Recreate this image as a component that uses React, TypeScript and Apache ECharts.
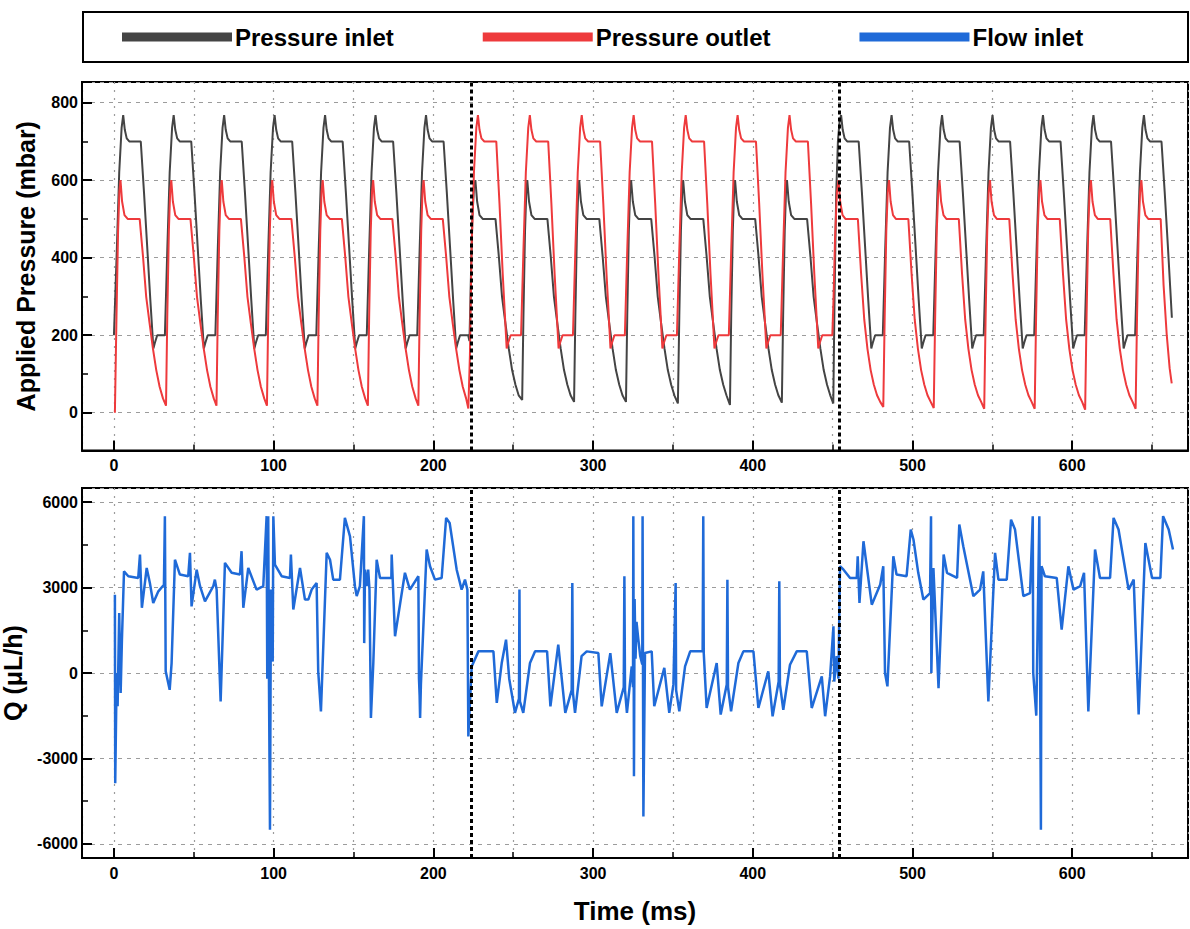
import React, { useEffect, useRef } from "react";
import * as echarts from "echarts";

const seriesNames = ["Pressure inlet", "Pressure outlet", "Flow inlet"];
const switchTimes = [223.5, 454.2];

// Pressure inlet (mbar) — [time ms, value]
const inletData: [number, number][] = [
  [0,200],[1.8,420],[3.3,620],[4.8,735],[5.8,768],[6.8,730],[8.0,708],[9.6,700],[16.8,700],[18.8,570],[20.8,430],[22.8,290],[24.7,166],[25.6,180],[27.1,200],
  [31.9,200],[33.4,420],[34.9,620],[36.4,735],[37.4,768],[38.4,730],[39.6,708],[41.2,700],[48.4,700],[50.4,570],[52.4,430],[54.4,290],[56.3,166],[57.2,180],[58.7,200],
  [63.5,200],[65,420],[66.5,620],[68,735],[69,768],[70,730],[71.2,708],[72.8,700],[80,700],[82,570],[84,430],[86,290],[87.9,166],[88.8,180],[90.3,200],
  [95.1,200],[96.6,420],[98.1,620],[99.6,735],[100.6,768],[101.6,730],[102.8,708],[104.4,700],[111.6,700],[113.6,570],[115.6,430],[117.6,290],[119.5,166],[120.4,180],[121.9,200],
  [126.7,200],[128.2,420],[129.7,620],[131.2,735],[132.2,768],[133.2,730],[134.4,708],[136,700],[143.2,700],[145.2,570],[147.2,430],[149.2,290],[151.1,166],[152,180],[153.5,200],
  [158.3,200],[159.8,420],[161.3,620],[162.8,735],[163.8,768],[164.8,730],[166,708],[167.6,700],[174.8,700],[176.8,570],[178.8,430],[180.8,290],[182.7,166],[183.6,180],[185.1,200],
  [189.9,200],[191.4,420],[192.9,620],[194.4,735],[195.4,768],[196.4,730],[197.6,708],[199.2,700],[206.4,700],[208.4,570],[210.4,430],[212.4,290],[214.3,166],[215.2,180],[216.7,200],
  [221.8,200],[222.6,185],[223.4,330],[224.4,500],[225.4,580],[226.3,600],[227.4,545],[228.9,510],[230.9,500],[238.9,500],[241,403],[243,299],[245.1,231],[247.2,166],[249.3,110],[251.4,72],[253.4,45],[255.6,33],
  [256.4,250],[257.4,470],[258.2,570],[258.8,600],[259.9,545],[261.4,510],[263.4,500],[271.4,500],[273.5,403],[275.5,299],[277.6,231],[279.7,166],[281.8,110],[283.9,72],[285.9,45],[288.1,28],
  [288.9,250],[289.9,470],[290.7,570],[291.3,600],[292.4,545],[293.9,510],[295.9,500],[303.9,500],[306,403],[308,299],[310.1,231],[312.2,166],[314.3,110],[316.4,72],[318.4,45],[320.6,28],
  [321.4,250],[322.4,470],[323.2,570],[323.8,600],[324.9,545],[326.4,510],[328.4,500],[336.4,500],[338.5,403],[340.5,299],[342.6,231],[344.7,166],[346.8,110],[348.9,72],[350.9,45],[353.1,24],
  [354,250],[355,470],[355.8,570],[356.4,600],[357.5,545],[359,510],[361,500],[369,500],[371.1,403],[373.1,299],[375.2,231],[377.3,166],[379.4,110],[381.5,72],[383.5,45],[385.7,20],
  [386.5,250],[387.5,470],[388.3,570],[388.9,600],[390,545],[391.5,510],[393.5,500],[401.5,500],[403.6,403],[405.6,299],[407.7,231],[409.8,166],[411.9,110],[414,72],[416,45],[418.2,26],
  [419,250],[420,470],[420.8,570],[421.4,600],[422.5,545],[424,510],[426,500],[434,500],[436.1,403],[438.1,299],[440.2,231],[442.3,166],[444.4,110],[446.5,72],[448.5,45],[450.4,24],
  [451.2,300],[452.2,560],[453.3,700],[454.3,750],[455.3,768],[456.3,730],[457.5,708],[459.1,700],[466.3,700],[468.3,570],[470.3,430],[472.3,290],[474.2,166],[475.1,180],[476.6,200],
  [481.4,200],[482.9,420],[484.4,620],[485.9,735],[486.9,768],[487.9,730],[489.1,708],[490.7,700],[497.9,700],[499.9,570],[501.9,430],[503.9,290],[505.8,166],[506.7,180],[508.2,200],
  [513,200],[514.5,420],[516,620],[517.5,735],[518.5,768],[519.5,730],[520.7,708],[522.3,700],[529.5,700],[531.5,570],[533.5,430],[535.5,290],[537.4,166],[538.3,180],[539.8,200],
  [544.6,200],[546.1,420],[547.6,620],[549.1,735],[550.1,768],[551.1,730],[552.3,708],[553.9,700],[561.1,700],[563.1,570],[565.1,430],[567.1,290],[569,166],[569.9,180],[571.4,200],
  [576.2,200],[577.7,420],[579.2,620],[580.7,735],[581.7,768],[582.7,730],[583.9,708],[585.5,700],[592.7,700],[594.7,570],[596.7,430],[598.7,290],[600.6,166],[601.5,180],[603,200],
  [607.8,200],[609.3,420],[610.8,620],[612.3,735],[613.3,768],[614.3,730],[615.5,708],[617.1,700],[624.3,700],[626.3,570],[628.3,430],[630.3,290],[632.2,166],[633.1,180],[634.6,200],
  [639.4,200],[640.9,420],[642.4,620],[643.9,735],[644.9,768],[645.9,730],[647.1,708],[648.7,700],[655.9,700],[657.9,570],[659.9,430],[661.4,320],[662.4,245]
];

// Pressure outlet (mbar)
const outletData: [number, number][] = [
  [0.6,0],[1.6,250],[2.6,470],[3.4,570],[4.1,600],[5.1,545],[6.6,510],[8.6,500],[16.1,500],[18.2,403],[20.2,299],[22.3,231],[24.4,166],[26.5,110],[28.6,67],[30.7,37],
  [32.6,18],[33.4,250],[34.4,470],[35.2,570],[35.9,600],[36.9,545],[38.4,510],[40.4,500],[47.9,500],[50,403],[52,299],[54.1,231],[56.2,166],[58.3,110],[60.4,67],[62.5,37],
  [64.2,18],[65,250],[66,470],[66.8,570],[67.5,600],[68.5,545],[70,510],[72,500],[79.5,500],[81.6,403],[83.6,299],[85.7,231],[87.8,166],[89.9,110],[92,67],[94.1,37],
  [95.8,18],[96.6,250],[97.6,470],[98.4,570],[99.1,600],[100.1,545],[101.6,510],[103.6,500],[111.1,500],[113.2,403],[115.2,299],[117.3,231],[119.4,166],[121.5,110],[123.6,67],[125.7,37],
  [127.4,18],[128.2,250],[129.2,470],[130,570],[130.7,600],[131.7,545],[133.2,510],[135.2,500],[142.7,500],[144.8,403],[146.8,299],[148.9,231],[151,166],[153.1,110],[155.2,67],[157.3,37],
  [159,18],[159.8,250],[160.8,470],[161.6,570],[162.3,600],[163.3,545],[164.8,510],[166.8,500],[174.3,500],[176.4,403],[178.4,299],[180.5,231],[182.6,166],[184.7,110],[186.8,67],[188.9,37],
  [190.6,18],[191.4,250],[192.4,470],[193.2,570],[193.9,600],[194.9,545],[196.4,510],[198.4,500],[205.9,500],[208,403],[210,299],[212.1,231],[214.2,166],[216.3,110],[218.4,67],[220.5,37],
  [221.9,11],[222.9,150],[223.9,420],[225.4,620],[226.9,735],[227.9,768],[228.9,730],[230.1,708],[231.9,700],[239.4,700],[241.4,540],[243.4,360],[245.9,166],[246.8,180],[248.4,200],
  [254.9,200],[256.4,420],[257.9,620],[259.4,735],[260.4,768],[261.4,730],[262.6,708],[264.4,700],[271.9,700],[273.9,540],[275.9,360],[278.4,166],[279.3,180],[280.9,200],
  [287.4,200],[288.9,420],[290.4,620],[291.9,735],[292.9,768],[293.9,730],[295.1,708],[296.9,700],[304.4,700],[306.4,540],[308.4,360],[310.9,166],[311.8,180],[313.4,200],
  [319.9,200],[321.4,420],[322.9,620],[324.4,735],[325.4,768],[326.4,730],[327.6,708],[329.4,700],[336.9,700],[338.9,540],[340.9,360],[343.4,166],[344.3,180],[345.9,200],
  [352.5,200],[354,420],[355.5,620],[357,735],[358,768],[359,730],[360.2,708],[362,700],[369.5,700],[371.5,540],[373.5,360],[376,166],[376.9,180],[378.5,200],
  [385,200],[386.5,420],[388,620],[389.5,735],[390.5,768],[391.5,730],[392.7,708],[394.5,700],[402,700],[404,540],[406,360],[408.5,166],[409.4,180],[411,200],
  [417.5,200],[419,420],[420.5,620],[422,735],[423,768],[424,730],[425.2,708],[427,700],[434.5,700],[436.5,540],[438.5,360],[441,166],[441.9,180],[443.5,200],
  [449.8,200],[450.6,300],[451.5,450],[452.7,570],[453.7,600],[454.7,545],[456.2,510],[458,500],[465.8,500],[467.8,360],[469.8,240],[471.8,165],[473.8,110],[475.8,72],[477.8,45],[479.8,28],[481.7,15],
  [482.6,250],[483.6,470],[484.5,570],[485.3,600],[486.3,545],[487.8,510],[489.6,500],[497.4,500],[499.4,360],[501.4,240],[503.4,165],[505.4,110],[507.4,72],[509.4,45],[511.4,28],[513.3,12],
  [514.2,250],[515.2,470],[516.1,570],[516.9,600],[517.9,545],[519.4,510],[521.2,500],[529,500],[531,360],[533,240],[535,165],[537,110],[539,72],[541,45],[543,28],[544.9,10],
  [545.8,250],[546.8,470],[547.7,570],[548.5,600],[549.5,545],[551,510],[552.8,500],[560.6,500],[562.6,360],[564.6,240],[566.6,165],[568.6,110],[570.6,72],[572.6,45],[574.6,28],[576.5,10],
  [577.4,250],[578.4,470],[579.3,570],[580.1,600],[581.1,545],[582.6,510],[584.4,500],[592.2,500],[594.2,360],[596.2,240],[598.2,165],[600.2,110],[602.2,72],[604.2,45],[606.2,28],[608.1,8],
  [609,250],[610,470],[610.9,570],[611.7,600],[612.7,545],[614.2,510],[616,500],[623.8,500],[625.8,360],[627.8,240],[629.8,165],[631.8,110],[633.8,72],[635.8,45],[637.8,28],[639.7,10],
  [640.6,250],[641.6,470],[642.5,570],[643.3,600],[644.3,545],[645.8,510],[647.6,500],[655.4,500],[657.2,330],[659.2,200],[661,115],[662.3,76]
];

// Flow inlet Q (µL/h)
const flowData: [number, number][] = [
  [0.6,2750],[0.8,-3870],[1.7,0],[2.3,-1170],[3.3,2110],[4.2,-700],[5.0,1170],[6.3,3570],[9.0,3400],[15.2,3340],[16.3,4160],[17.5,2290],[20.5,3690],[22.5,3160],[24.6,2460],[27.8,2870],[31.3,3100],[31.9,5510],[32.4,60],[34.9,-590],[36.1,350],[38.2,3980],[41.3,3460],[46.5,3400],[47.6,4220],[48.6,2340],[51.8,3630],[53.9,3050],[57.0,2520],[62.2,3050],[63.2,3280],[64.3,2930],[66.8,-1000],[69.5,3870],[73.7,3520],[78.9,3460],[79.9,4280],[81.0,2290],[84.1,3690],[89.3,2930],[93.5,3050],
  [95.6,5510],[96.0,-200],[96.6,5510],[97.1,-590],[97.7,-5510],[98.3,2930],[99.4,400],[99.8,5510],[100.8,3810],[105.0,3400],[110.2,3340],[110.8,4160],[112.3,2230],[116.5,3690],[119.6,2580],[121.7,2580],[123.8,2930],[126.9,3160],[127.9,60],[129.6,-1350],[133.2,4220],[135.3,3980],[137.3,3280],[141.5,3280],[144.6,5450],[147.8,4800],[150.9,3050],[152.0,2700],[154.0,3050],[156.5,5510],[156.7,1050],[157.2,3630],[158.2,3050],[159.2,3630],[160.0,2930],[160.9,-1580],[162.4,350],[164.5,3980],[166.6,3340],[173.7,3340],[173.9,4160],[176.0,1290],[182.2,3520],[185.3,2930],[190.6,3400],[191.0,-200],[191.4,-800],[191.7,-1580],[192.2,-400],[195.8,4340],[197.9,3750],[201.0,3280],[205.2,3340],[208.0,5450],[210.2,5270],[214.6,3630],[217.7,2930],[219.8,3280],[221.3,2930],
  [221.9,-2230],[224.0,230],[228.2,760],[237.6,760],[239.7,-1050],[242.8,350],[245.5,1170],[247.5,-200],[251.1,-1400],[253.6,-900],[253.9,2930],[254.2,-1000],[256.3,-1400],[260.5,350],[263.7,760],[271.2,760],[273.3,-1170],[278.2,1000],[282.6,-1400],[286.6,-600],[287.0,3160],[287.4,-700],[288.7,-1400],[292.8,590],[296.0,760],[303.3,700],[305.4,-1170],[310.8,700],[314.8,-1400],[319.2,-500],[319.6,3400],[320.0,-600],[321.2,-1400],[324.2,230],[325.0,-500],[325.2,5510],[325.6,-3630],[326.0,2600],[326.6,500],[327.2,1800],[328.3,1200],[329.5,600],[330.8,300],[331.0,5510],[331.5,-5040],[332.5,700],[336.7,760],[338.3,-1170],[344.6,180],[347.7,-1400],[350.3,-400],[351.7,3160],[352.0,-600],[354.0,-1350],[357.6,230],[360.8,760],[368.6,760],[369.0,5510],[369.3,700],[371.1,-1230],[377.4,350],[379.9,-1460],[383.7,-400],[384.1,3280],[384.5,-500],[386.4,-1350],[391.0,350],[394.1,760],[400.4,760],[403.5,-1230],[409.7,60],[412.4,-1520],[416.2,-300],[416.6,3220],[417.0,-400],[419.1,-1290],[423.3,290],[427.5,760],[433.8,760],[436.9,-1230],[443.2,-120],[445.3,-1520],[448.4,-120],[450.5,1640],[451.0,-300],[452.5,590],[453.6,-200],
  [454.6,3750],[456.7,3640],[460.9,3340],[465.1,3340],[465.7,4100],[466.8,2460],[469.3,4630],[474.5,2400],[479.8,3110],[481.7,3750],[482.8,0],[484.3,-470],[488.0,4100],[490.0,3460],[496.3,3400],[498.9,5040],[500.6,4690],[503.6,3520],[506.8,2580],[511.0,2810],[511.6,5510],[511.8,0],[513.1,3690],[516.3,-530],[519.5,4160],[521.6,3520],[527.9,3340],[529.3,5220],[531.8,4450],[538.1,2700],[542.3,2930],[544.3,3570],[547.5,-1000],[551.7,4220],[553.8,3280],[559.0,3280],[561.7,5390],[564.2,5040],[569.4,2700],[573.6,2810],[575.3,5510],[575.6,0],[577.5,-1500],[579.4,5510],[580.0,-1000],[580.4,-5510],[580.8,3750],[582.9,3400],[590.3,3340],[593.4,1520],[597.6,3750],[600.8,2930],[605.0,3050],[607.4,3520],[610.1,-1350],[614.3,4340],[617.4,3340],[623.7,3340],[625.9,5450],[629.0,5040],[635.3,2930],[638.5,3280],[641.6,-1460],[645.8,4570],[650.0,3340],[655.2,3340],[656.9,5510],[660.4,5040],[663.1,4340]
];

const FONT = "'Liberation Sans', Arial, sans-serif";
const COLORS = ["#444444", "#ee3a3c", "#1f6ad8"];

function xAxisCfg(gridIndex: number, withName: boolean) {
  return {
    type: "value",
    gridIndex,
    min: -20,
    max: 672.5,
    name: withName ? "Time (ms)" : "",
    nameLocation: "middle",
    nameGap: 40,
    nameTextStyle: { fontFamily: FONT, fontWeight: "bold", fontSize: 26, color: "#000" },
    axisLine: { show: true, onZero: false, lineStyle: { color: "#000", width: 2 } },
    axisTick: { show: true, inside: true, length: 10, lineStyle: { color: "#000", width: 2 } },
    minorTick: { show: true, splitNumber: 2, length: 6, lineStyle: { color: "#000", width: 1.5 } },
    axisLabel: {
      show: true, margin: 7, color: "#000", fontFamily: FONT, fontWeight: "bold", fontSize: 16,
      showMinLabel: false, showMaxLabel: false,
      formatter: (v: number) => String(v),
    },
    splitLine: { show: true, lineStyle: { color: "#9c9c9c", width: 1.2, type: [2, 6] } },
    minorSplitLine: { show: true, lineStyle: { color: "#9c9c9c", width: 1.2, type: [2, 6] } },
  };
}

function yAxisCfg(gridIndex: number, name: string, min: number, max: number) {
  return {
    type: "value",
    gridIndex,
    min,
    max,
    name,
    nameLocation: "middle",
    nameGap: 43,
    nameRotate: 90,
    nameTextStyle: { fontFamily: FONT, fontWeight: "bold", fontSize: 25, color: "#000", lineHeight: 26 },
    axisLine: { show: true, onZero: false, lineStyle: { color: "#000", width: 2 } },
    axisTick: { show: true, inside: true, length: 10, lineStyle: { color: "#000", width: 2 } },
    minorTick: { show: true, splitNumber: 2, length: 6, lineStyle: { color: "#000", width: 1.5 } },
    axisLabel: {
      show: true, margin: 4, color: "#000", fontFamily: FONT, fontWeight: "bold", fontSize: 16,
      showMinLabel: false, showMaxLabel: false,
      formatter: (v: number) => String(v),
    },
    splitLine: { show: true, lineStyle: { color: "#9c9c9c", width: 1.2, type: [4, 5] } },
    minorSplitLine: { show: false },
  };
}

const markLines = {
  silent: true,
  symbol: "none",
  label: { show: false },
  lineStyle: { color: "#000", width: 3, type: [4, 3] },
  data: switchTimes.map((t) => ({ xAxis: t })),
};

export default function App() {
  const ref = useRef<HTMLDivElement>(null);
  useEffect(() => {
    document.body.style.margin = "0";
    if (!ref.current) return;
    const chart = echarts.init(ref.current, null, { renderer: "svg" });
    chart.setOption({
      animation: false,
      backgroundColor: "#fff",
      color: COLORS,
      legend: {
        data: seriesNames,
        left: 122,
        top: 25,
        padding: 0,
        icon: "rect",
        itemWidth: 110,
        itemHeight: 9,
        itemGap: 89,
        textStyle: { fontFamily: FONT, fontWeight: "bold", fontSize: 24, color: "#000", padding: [0, 0, 0, -2] },
      },
      graphic: [
        {
          type: "rect",
          shape: { x: 83, y: 12, width: 1105, height: 50 },
          style: { fill: "none", stroke: "#000", lineWidth: 2 },
          z: 10,
        },
      ],
      grid: [
        { left: 82, top: 82, width: 1106, height: 368.5, show: true, borderColor: "#000", borderWidth: 2, backgroundColor: "transparent", containLabel: false, outerBoundsMode: "none" },
        { left: 82, top: 488, width: 1106, height: 370, show: true, borderColor: "#000", borderWidth: 2, backgroundColor: "transparent", containLabel: false, outerBoundsMode: "none" },
      ],
      xAxis: [xAxisCfg(0, false), xAxisCfg(1, true)],
      yAxis: [
        yAxisCfg(0, "Applied Pressure (mbar)", -97.5, 853.4),
        yAxisCfg(1, "Q (\u03bcL/h)", -6500, 6500),
      ],
      series: [
        {
          name: seriesNames[0], type: "line", xAxisIndex: 0, yAxisIndex: 0,
          data: inletData, showSymbol: false, symbol: "none",
          lineStyle: { color: COLORS[0], width: 2 }, itemStyle: { color: COLORS[0] },
        },
        {
          name: seriesNames[1], type: "line", xAxisIndex: 0, yAxisIndex: 0,
          data: outletData, showSymbol: false, symbol: "none",
          lineStyle: { color: COLORS[1], width: 2 }, itemStyle: { color: COLORS[1] },
          markLine: markLines,
        },
        {
          name: seriesNames[2], type: "line", xAxisIndex: 1, yAxisIndex: 1,
          data: flowData, showSymbol: false, symbol: "none",
          lineStyle: { color: COLORS[2], width: 2.5 }, itemStyle: { color: COLORS[2] },
          markLine: markLines,
        },
      ],
    });
    return () => chart.dispose();
  }, []);
  return <div ref={ref} style={{ width: 1190, height: 929 }} />;
}
